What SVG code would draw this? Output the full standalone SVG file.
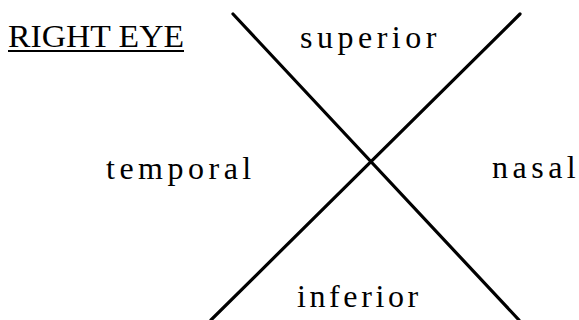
<svg xmlns="http://www.w3.org/2000/svg" width="579" height="320" viewBox="0 0 579 320">
<style>
.lbl{font-family:"Liberation Serif","Times New Roman",serif;font-size:32px;fill:#000;letter-spacing:4.5px}
.title{font-family:"Liberation Serif","Times New Roman",serif;font-size:32px;fill:#000}
.ax{stroke:#000;stroke-width:3.2;stroke-linecap:round;fill:none}
</style>
<rect width="579" height="320" fill="#fff"/>
<g id="title">
<text class="title" x="8" y="47" textLength="176" lengthAdjust="spacingAndGlyphs">RIGHT EYE</text>
<line x1="8" y1="51" x2="184" y2="51" stroke="#000" stroke-width="2"/>
</g>
<g id="connectors">
<line class="ax" x1="233" y1="14" x2="519" y2="320"/>
<line class="ax" x1="520" y1="14" x2="211" y2="320"/>
</g>
<g id="superior"><text class="lbl" x="300" y="48">superior</text></g>
<g id="temporal"><text class="lbl" x="106" y="179">temporal</text></g>
<g id="nasal"><text class="lbl" x="492" y="178">nasal</text></g>
<g id="inferior"><text class="lbl" x="297" y="307" style="letter-spacing:3.6px">inferior</text></g>
</svg>
